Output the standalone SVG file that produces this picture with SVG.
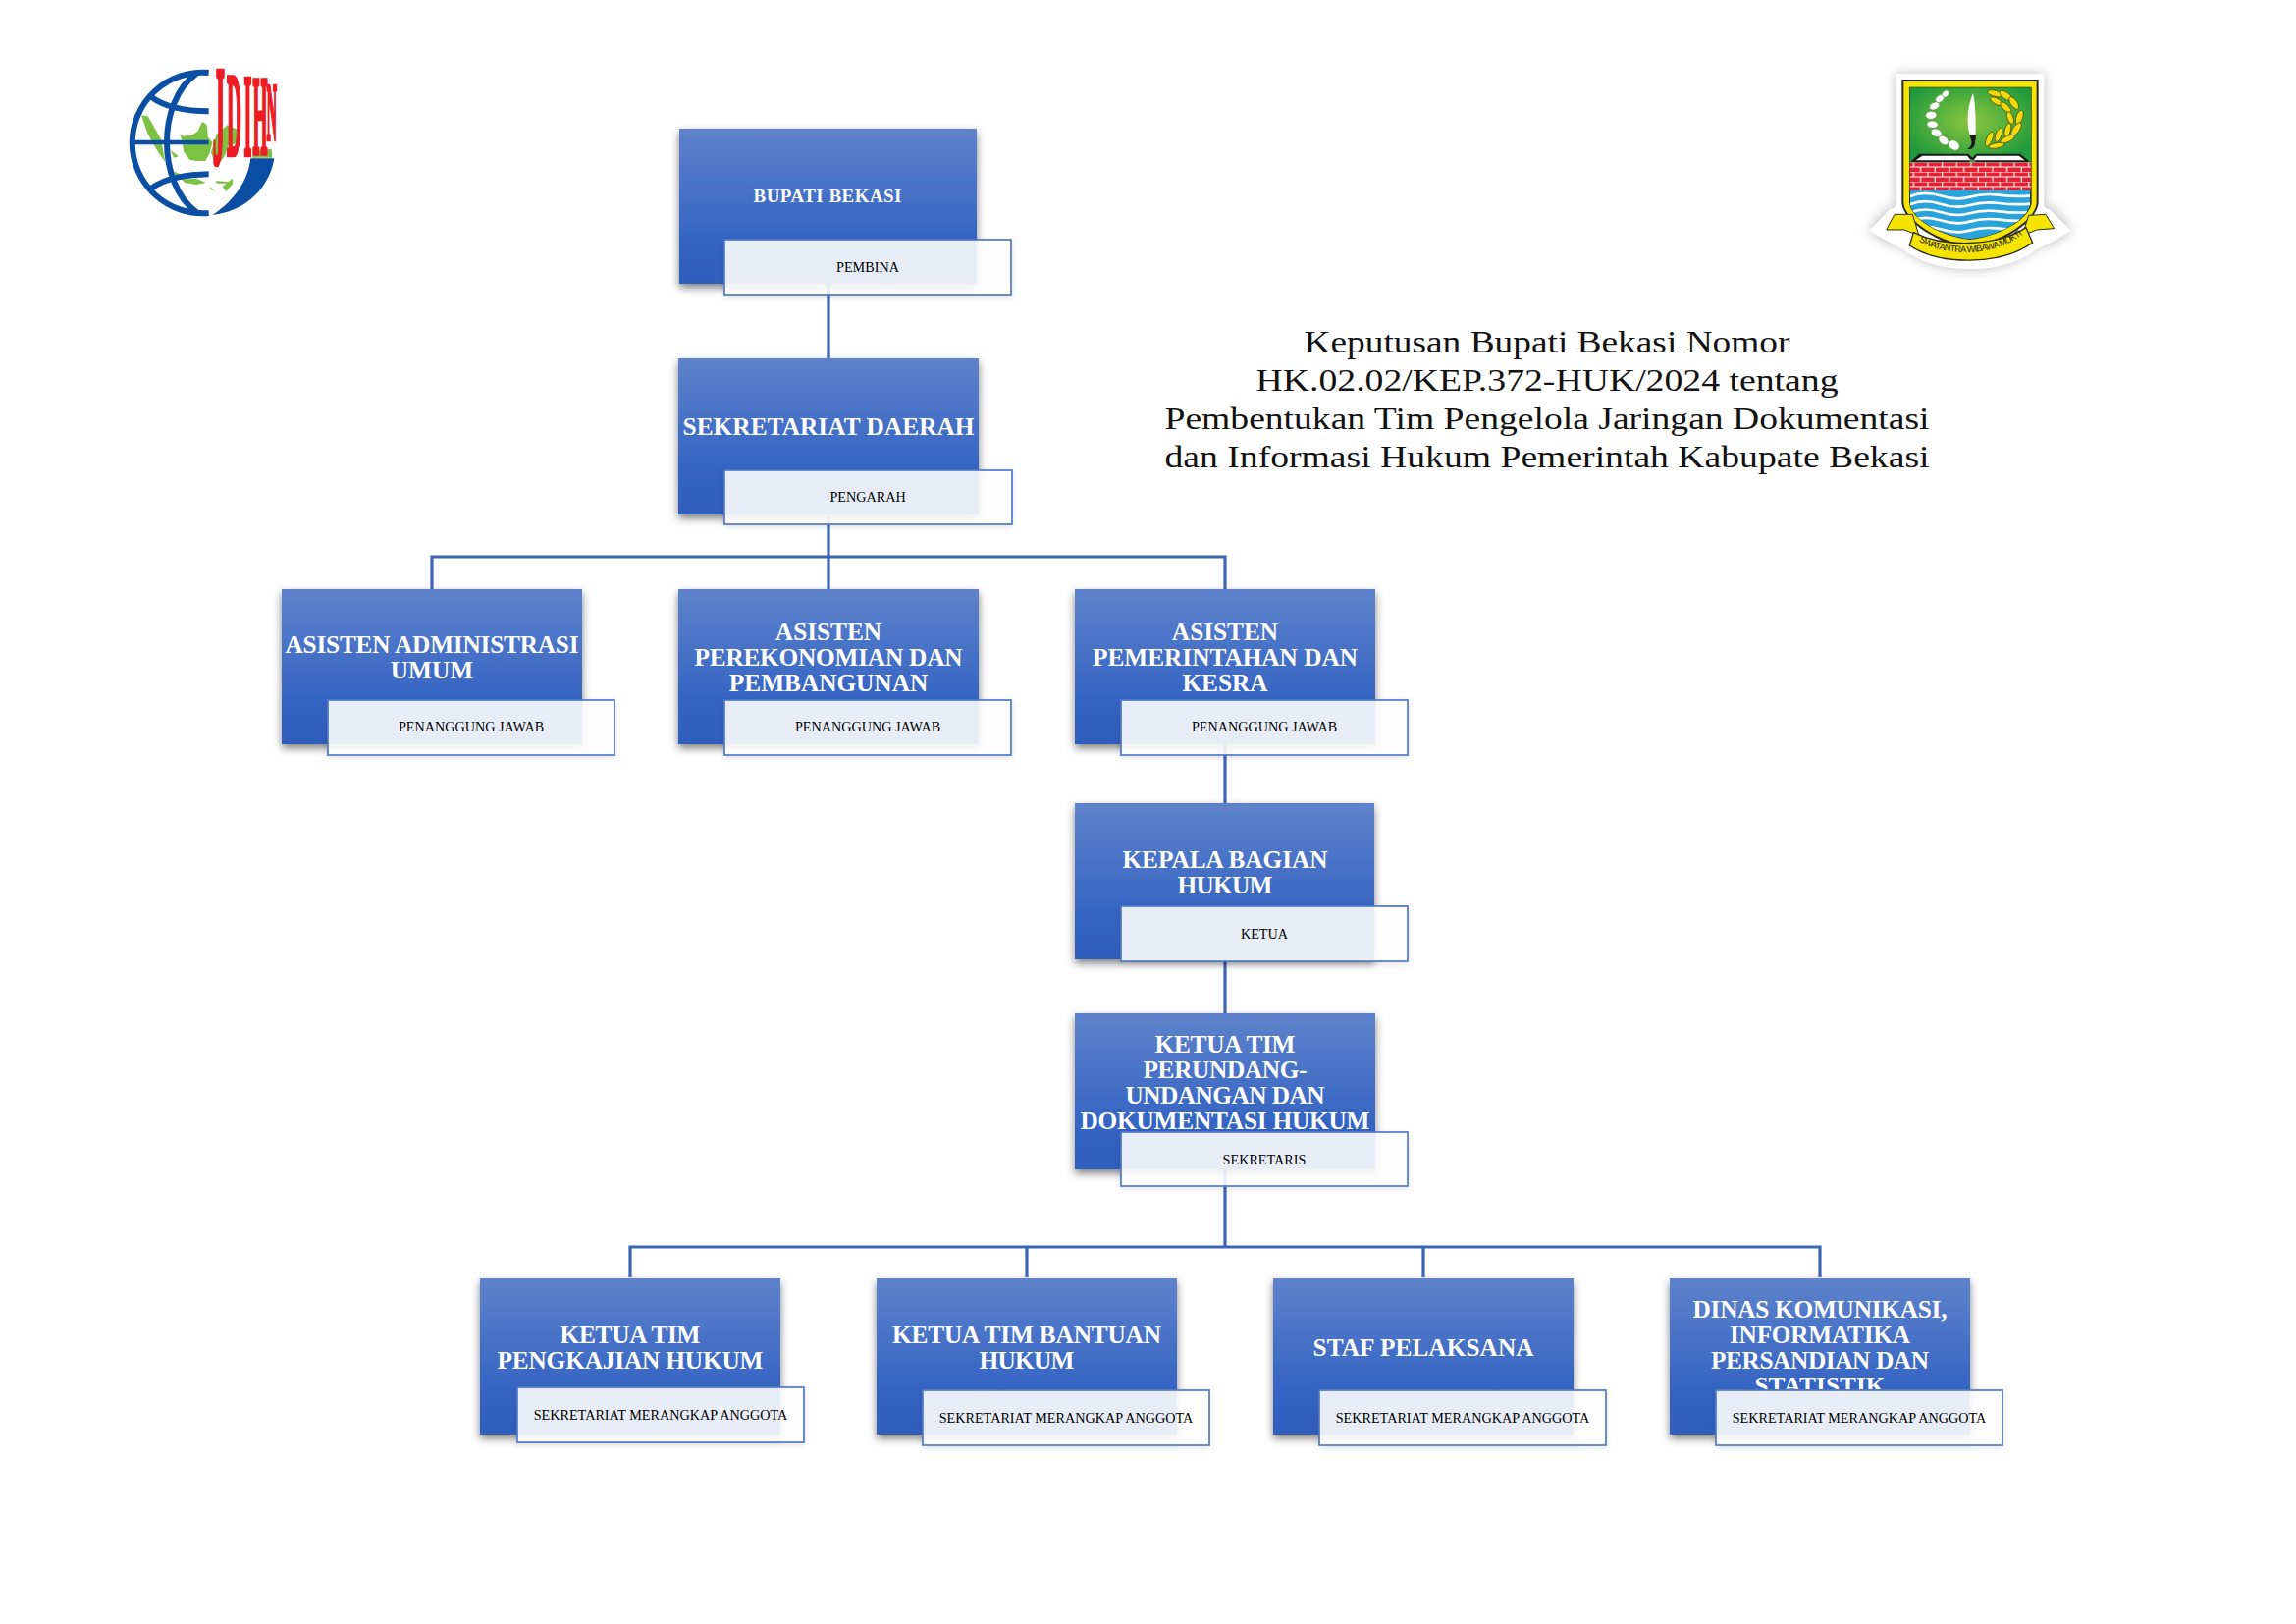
<svg xmlns="http://www.w3.org/2000/svg" xmlns:xlink="http://www.w3.org/1999/xlink" width="2339" height="1654" viewBox="0 0 2339 1654">
<style>
.box{fill:url(#boxGrad);filter:url(#boxShadow)}
.lab{fill:#fff;fill-opacity:.88;stroke:#5079c9;stroke-width:1.7;filter:url(#labShadow)}
.t{font-family:"Liberation Serif","Times New Roman",serif;font-weight:700;fill:#fff;font-size:25.3px;text-anchor:middle}
.l{font-family:"Liberation Serif","Times New Roman",serif;fill:#000;font-size:14.2px;text-anchor:middle}
.h{font-family:"Liberation Serif","Times New Roman",serif;fill:#111;font-size:31px;text-anchor:middle}
.c{fill:none;stroke:#3c66b5;stroke-width:3.2}
.gl{fill:none;stroke:#0a4fa3;stroke-width:18}
.isl{fill:#7dc242}
.bead{fill:#fff;stroke:#5a8a3a;stroke-width:1.5}
.leaf{fill:#f5d90a;stroke:#4f5a10;stroke-width:2.5}
.wave{fill:none;stroke:#fff;stroke-width:8}
</style>
<defs>
<linearGradient id="boxGrad" x1="0" y1="0" x2="0" y2="1">
<stop offset="0" stop-color="#5f82cb"/><stop offset=".7" stop-color="#3565c3"/><stop offset="1" stop-color="#2f5ebc"/>
</linearGradient>
<filter id="boxShadow" x="-10%" y="-10%" width="120%" height="125%"><feDropShadow dx="0" dy="4" stdDeviation="4" flood-color="#000" flood-opacity=".5"/></filter>
<filter id="labShadow" x="-5%" y="-10%" width="110%" height="130%"><feDropShadow dx="0" dy="2" stdDeviation="3" flood-color="#000" flood-opacity=".12"/></filter>
<filter id="emblemShadow" x="-15%" y="-15%" width="130%" height="130%"><feGaussianBlur stdDeviation="18"/></filter>
<radialGradient id="green" cx=".5" cy=".45" r=".6"><stop offset="0" stop-color="#8cc63f"/><stop offset="1" stop-color="#1f9a3c"/></radialGradient>
<pattern id="brick" width="44" height="30" patternUnits="userSpaceOnUse" x="197" y="345">
<rect width="44" height="30" fill="#e8202f"/>
<path d="M0 .0H44M0 15H44M11 0V15M33 15V30" stroke="#fff" stroke-width="3.5" fill="none"/>
</pattern>
<clipPath id="waterClip"><path d="M197 432H565V470C560 520 470 570 381 580C292 570 202 520 197 470Z"/></clipPath>
<clipPath id="dinasClip"><rect x="1701" y="1301" width="306" height="114"/></clipPath>
<path id="ribbonArc" d="M224 586C300 636 460 636 540 566"/>
</defs>
<rect width="2339" height="1654" fill="#fff"/>

<g id="logo-jdihn" transform="translate(100 40) scale(.3333)">
<path class="isl" d="M132 232L152 235 172 270 192 305 205 375 190 355 165 315 148 280ZM228 402L250 412 245 416 230 412ZM250 290L262 296 290 292 305 280 318 252 332 260 336 300 350 315 340 350 328 372 300 372 280 368 262 345 256 310ZM255 428L300 425 330 438 300 444 265 438ZM220 338L246 358 232 362ZM345 345L362 290 395 262 425 275 428 320 400 320 385 360 360 390ZM380 450L410 425 412 440 392 465ZM340 450L358 462 345 460ZM360 432L400 436 395 440 362 440ZM480 340L530 335 532 362 470 362Z"/>
<path class="gl" d="M338 102A215.3 215.3 0 1 0 338 531"/>
<path class="gl" d="M300 105C180 190 180 440 300 528"/>
<path class="gl" d="M162 176C210 212 280 220 338 220M162 456C210 420 280 414 338 412"/>
<path class="gl" style="stroke-width:14" d="M100 315H338"/>
<path fill="#0a4fa3" d="M466 364H538C525 450 455 525 350 537C420 490 458 430 466 364Z"/>
<text transform="scale(.17 1)" font-family="'Liberation Serif',serif" font-weight="700" fill="#ed1c24" stroke="#ed1c24" stroke-width="14"><tspan x="2060" y="382" font-size="430">J</tspan><tspan x="2310" y="354" font-size="365">D</tspan><tspan x="2620" y="354" font-size="355">I</tspan><tspan x="2780" y="352" font-size="340">H</tspan><tspan x="3030" y="306" font-size="248">N</tspan></text>
</g>

<g id="logo-bekasi" transform="translate(1880 50) scale(.3333)">
<path d="M155 75H607V440C607 480 600 490 640 490L690 555 640 590 585 605C520 660 450 672 381 672C310 672 240 660 175 605L125 590 72 555 125 490C165 490 155 480 155 440Z" fill="#888" opacity=".55" filter="url(#emblemShadow)"/>
<path d="M155 75H607V440C607 475 600 485 625 490L690 555 640 585 585 612C520 660 450 672 381 672C310 672 240 660 175 612L125 585 72 555 135 490C160 485 155 475 155 440Z" fill="#fff"/>
<path d="M172 93H590V470C585 530 470 598 381 608C292 598 177 530 172 470Z" fill="#2a2a20"/>
<path d="M178 99H584V470C580 525 470 591 381 601C292 591 182 525 178 470Z" fill="#f5e400"/>
<path d="M195 116H569V470C562 520 470 572 381 582C292 572 200 520 195 470Z" fill="#2a2a20"/>
<rect x="197" y="118" width="370" height="228" fill="url(#green)"/>
<path d="M198 346L225 320H375L388 332 400 320H535L565 346H400L388 336 375 346Z" fill="#1a1a1a"/>
<path d="M235 326H372L384 340H215ZM402 326H530L548 340H392Z" fill="#fff"/>
<rect x="197" y="346" width="370" height="86" fill="url(#brick)"/>
<g clip-path="url(#waterClip)">
<rect x="197" y="432" width="370" height="150" fill="#29a3dc"/>
<path class="wave" d="M197 450Q240 432 290 448T380 452T470 446T565 448"/>
<path class="wave" d="M197 475Q240 457 290 473T380 477T470 471T565 473"/>
<path class="wave" d="M197 500Q240 482 290 498T380 502T470 496T565 498"/>
<path class="wave" d="M197 525Q240 507 290 523T380 527T470 521T565 523"/>
<path class="wave" d="M197 552Q240 534 290 550T380 554T470 548T565 550"/>
</g>
<g class="bead">
<ellipse cx="306" cy="137" rx="12" ry="9" transform="rotate(-40 306 137)"/>
<ellipse cx="288" cy="152" rx="14" ry="10" transform="rotate(-35 288 152)"/>
<ellipse cx="272" cy="174" rx="16" ry="11" transform="rotate(-25 272 174)"/>
<ellipse cx="262" cy="202" rx="17" ry="12" transform="rotate(-5 262 202)"/>
<ellipse cx="266" cy="230" rx="17" ry="11" transform="rotate(5 266 230)"/>
<ellipse cx="278" cy="256" rx="17" ry="12" transform="rotate(20 278 256)"/>
<ellipse cx="300" cy="279" rx="17" ry="12" transform="rotate(40 300 279)"/>
<ellipse cx="332" cy="294" rx="18" ry="14" transform="rotate(35 332 294)"/>
</g>
<path d="M390 135C375 170 368 220 380 262H398C398 220 398 170 390 135Z" fill="#fff"/>
<path d="M380 262H400L396 285C396 300 385 310 372 305C385 300 388 285 384 278Z" fill="#1a1a1a"/>
<g class="leaf">
<ellipse cx="458" cy="136" rx="24" ry="9" transform="rotate(15 458 136)"/>
<ellipse cx="490" cy="142" rx="22" ry="10" transform="rotate(35 490 142)"/>
<ellipse cx="462" cy="160" rx="22" ry="9" transform="rotate(30 462 160)"/>
<ellipse cx="515" cy="165" rx="22" ry="10" transform="rotate(55 515 165)"/>
<ellipse cx="490" cy="178" rx="22" ry="9" transform="rotate(45 490 178)"/>
<ellipse cx="532" cy="208" rx="22" ry="10" transform="rotate(110 532 208)"/>
<ellipse cx="504" cy="210" rx="20" ry="9" transform="rotate(70 504 210)"/>
<ellipse cx="522" cy="245" rx="24" ry="10" transform="rotate(125 522 245)"/>
<ellipse cx="496" cy="248" rx="22" ry="9" transform="rotate(105 496 248)"/>
<ellipse cx="495" cy="275" rx="24" ry="9" transform="rotate(155 495 275)"/>
<ellipse cx="468" cy="262" rx="22" ry="9" transform="rotate(110 468 262)"/>
<ellipse cx="462" cy="295" rx="24" ry="8" transform="rotate(170 462 295)"/>
<ellipse cx="440" cy="275" rx="24" ry="9" transform="rotate(115 440 275)"/>
</g>
<path d="M150 505L205 505 225 570 180 552 125 552Z" fill="#f5e400" stroke="#2a2a20" stroke-width="3"/>
<path d="M612 505L560 508 540 570 585 552 638 548Z" fill="#f5e400" stroke="#2a2a20" stroke-width="3"/>
<path d="M208 560C300 606 460 606 552 545L572 592C470 662 290 662 196 600Z" fill="#f5e400" stroke="#2a2a20" stroke-width="4"/>
<text font-family="'Liberation Sans',sans-serif" font-size="28" fill="#222"><textPath xlink:href="#ribbonArc" href="#ribbonArc" textLength="336">SWATANTRA WIBAWA MUKTI</textPath></text>
</g>

<g id="connectors">
<path class="c" d="M844 289V365"/>
<path class="c" d="M844 525V600M440 600V567H1248V600"/>
<path class="c" d="M1248 758V818M1248 977V1032M1248 1191V1270"/>
<path class="c" d="M642 1301V1270H1854V1301M1046 1270V1301M1450 1270V1301"/>
</g>

<g id="title">
<text class="h" x="1576" y="359" textLength="495" lengthAdjust="spacingAndGlyphs">Keputusan Bupati Bekasi Nomor</text>
<text class="h" x="1576" y="398" textLength="593" lengthAdjust="spacingAndGlyphs">HK.02.02/KEP.372-HUK/2024 tentang</text>
<text class="h" x="1576" y="437" textLength="779" lengthAdjust="spacingAndGlyphs">Pembentukan Tim Pengelola Jaringan Dokumentasi</text>
<text class="h" x="1576" y="476" textLength="779" lengthAdjust="spacingAndGlyphs">dan Informasi Hukum Pemerintah Kabupate Bekasi</text>
</g>

<g id="node-bupati"><rect class="box" x="692" y="131" width="303" height="158"/><text class="t" x="843" y="206" style="font-size:19px" textLength="151">BUPATI BEKASI</text><rect class="lab" x="738" y="244" width="292" height="56"/><text class="l" x="884" y="277">PEMBINA</text></g>
<g id="node-sekda"><rect class="box" x="691" y="365" width="306" height="159"/><text class="t" x="844" y="443" textLength="297">SEKRETARIAT DAERAH</text><rect class="lab" x="738" y="479" width="293" height="55"/><text class="l" x="884" y="511">PENGARAH</text></g>
<g id="node-as1"><rect class="box" x="287" y="600" width="306" height="158"/><text class="t" x="440" y="665" textLength="299">ASISTEN ADMINISTRASI</text><text class="t" x="440" y="691">UMUM</text><rect class="lab" x="334" y="713" width="292" height="56"/><text class="l" x="480" y="745">PENANGGUNG JAWAB</text></g>
<g id="node-as2"><rect class="box" x="691" y="600" width="306" height="158"/><text class="t" x="844" y="652">ASISTEN</text><text class="t" x="844" y="678" textLength="273">PEREKONOMIAN DAN</text><text class="t" x="844" y="704">PEMBANGUNAN</text><rect class="lab" x="738" y="713" width="292" height="56"/><text class="l" x="884" y="745">PENANGGUNG JAWAB</text></g>
<g id="node-as3"><rect class="box" x="1095" y="600" width="306" height="158"/><text class="t" x="1248" y="652">ASISTEN</text><text class="t" x="1248" y="678" textLength="270">PEMERINTAHAN DAN</text><text class="t" x="1248" y="704">KESRA</text><rect class="lab" x="1142" y="713" width="292" height="56"/><text class="l" x="1288" y="745">PENANGGUNG JAWAB</text></g>
<g id="node-kabag"><rect class="box" x="1095" y="818" width="305" height="159"/><text class="t" x="1248" y="884" textLength="209">KEPALA BAGIAN</text><text class="t" x="1248" y="910" textLength="97">HUKUM</text><rect class="lab" x="1142" y="923" width="292" height="56"/><text class="l" x="1288" y="956">KETUA</text></g>
<g id="node-ketua"><rect class="box" x="1095" y="1032" width="306" height="159"/><text class="t" x="1248" y="1072" textLength="143">KETUA TIM</text><text class="t" x="1248" y="1098" textLength="167">PERUNDANG-</text><text class="t" x="1248" y="1124" textLength="203">UNDANGAN DAN</text><text class="t" x="1248" y="1150" textLength="295">DOKUMENTASI HUKUM</text><rect class="lab" x="1142" y="1153" width="292" height="55"/><text class="l" x="1288" y="1186">SEKRETARIS</text></g>
<g id="node-kajian"><rect class="box" x="489" y="1302" width="306" height="159"/><text class="t" x="642" y="1368" textLength="143">KETUA TIM</text><text class="t" x="642" y="1394" textLength="271">PENGKAJIAN HUKUM</text><rect class="lab" x="527" y="1413" width="292" height="56"/><text class="l" x="673" y="1446">SEKRETARIAT MERANGKAP ANGGOTA</text></g>
<g id="node-bantuan"><rect class="box" x="893" y="1302" width="306" height="159"/><text class="t" x="1046" y="1368" textLength="274">KETUA TIM BANTUAN</text><text class="t" x="1046" y="1394" textLength="97">HUKUM</text><rect class="lab" x="940" y="1416" width="292" height="56"/><text class="l" x="1086" y="1449">SEKRETARIAT MERANGKAP ANGGOTA</text></g>
<g id="node-staf"><rect class="box" x="1297" y="1302" width="306" height="159"/><text class="t" x="1450" y="1381" textLength="225">STAF PELAKSANA</text><rect class="lab" x="1344" y="1416" width="292" height="56"/><text class="l" x="1490" y="1449">SEKRETARIAT MERANGKAP ANGGOTA</text></g>
<g id="node-dinas"><rect class="box" x="1701" y="1302" width="306" height="159"/><g clip-path="url(#dinasClip)"><text class="t" x="1854" y="1342" textLength="259">DINAS KOMUNIKASI,</text><text class="t" x="1854" y="1368" textLength="184">INFORMATIKA</text><text class="t" x="1854" y="1394" textLength="222">PERSANDIAN DAN</text><text class="t" x="1854" y="1420" textLength="133">STATISTIK</text></g><rect class="lab" x="1748" y="1416" width="292" height="56"/><text class="l" x="1894" y="1449">SEKRETARIAT MERANGKAP ANGGOTA</text></g>
</svg>
